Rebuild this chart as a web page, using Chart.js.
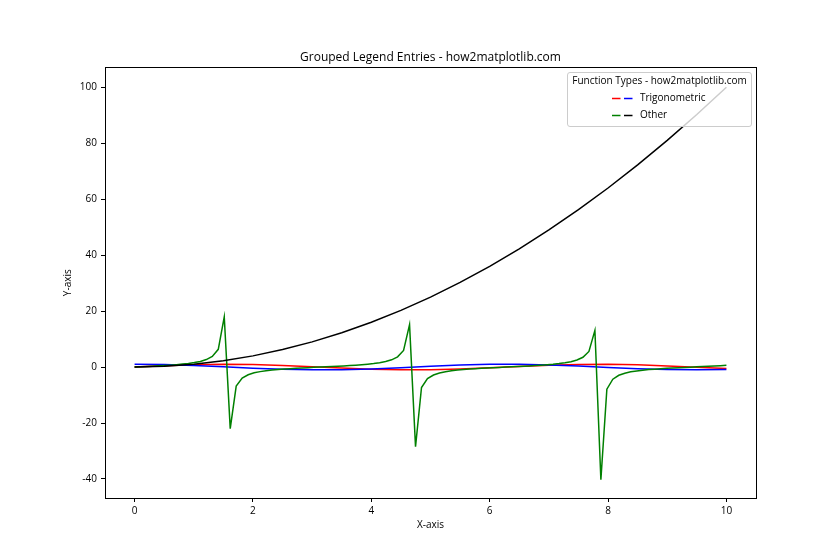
<!DOCTYPE html>
<html><head><meta charset="utf-8">
<script src="https://cdn.jsdelivr.net/npm/chart.js@4/dist/chart.umd.min.js"></script>
<style>html,body{margin:0;padding:0;background:#fff}#wrap{width:840px;height:560px;position:relative}</style>
</head><body><div id="wrap"><canvas id="c" width="840" height="560"></canvas></div>
<script>
// ---- data ----
const gridX = [0,0.5,1,1.5,2,2.5,3,3.5,4,4.5,5,5.5,6,6.5,7,7.5,8,8.5,9,9.5,10];
const sinValues = [0,0.479,0.841,0.997,0.909,0.598,0.141,-0.351,-0.757,-0.978,-0.959,-0.706,-0.279,0.215,0.657,0.938,0.989,0.798,0.412,-0.075,-0.544];
const cosValues = [1,0.878,0.540,0.071,-0.416,-0.801,-0.990,-0.936,-0.654,-0.211,0.284,0.709,0.960,0.977,0.754,0.347,-0.146,-0.602,-0.911,-0.997,-0.839];
const squareValues = [0,0.25,1,2.25,4,6.25,9,12.25,16,20.25,25,30.25,36,42.25,49,56.25,64,72.25,81,90.25,100];
const tanX = [0,0.101,0.202,0.303,0.404,0.505,0.606,0.707,0.808,0.909,1.010,1.111,1.212,1.313,1.414,1.515,1.616,1.717,1.818,1.919,
  2.020,2.121,2.222,2.323,2.424,2.525,2.626,2.727,2.828,2.929,3.030,3.131,3.232,3.333,3.434,3.535,3.636,3.737,3.838,3.939,
  4.040,4.141,4.242,4.343,4.444,4.545,4.646,4.747,4.848,4.949,5.051,5.152,5.253,5.354,5.455,5.556,5.657,5.758,5.859,5.960,
  6.061,6.162,6.263,6.364,6.465,6.566,6.667,6.768,6.869,6.970,7.071,7.172,7.273,7.374,7.475,7.576,7.677,7.778,7.879,7.980,
  8.081,8.182,8.283,8.384,8.485,8.586,8.687,8.788,8.889,8.990,9.091,9.192,9.293,9.394,9.495,9.596,9.697,9.798,9.899,10.000];
const tanValues = [0,0.10,0.20,0.31,0.43,0.55,0.69,0.85,1.05,1.28,1.59,2.02,2.67,3.79,6.33,17.95,
  -22.01,-6.78,-3.96,-2.75,-2.07,-1.63,-1.31,-1.07,-0.87,-0.71,-0.57,-0.44,-0.32,-0.22,-0.11,-0.01,
  0.09,0.19,0.30,0.42,0.54,0.68,0.84,1.03,1.26,1.56,1.97,2.59,3.64,5.94,15.15,
  -28.48,-7.30,-4.14,-2.84,-2.13,-1.67,-1.34,-1.09,-0.89,-0.72,-0.58,-0.45,-0.34,-0.23,-0.12,-0.02,
  0.08,0.18,0.29,0.40,0.53,0.66,0.82,1.00,1.23,1.52,1.92,2.51,3.50,5.58,13.11,
  -40.3,-7.91,-4.33,-2.94,-2.19,-1.71,-1.37,-1.11,-0.91,-0.74,-0.59,-0.46,-0.35,-0.24,-0.13,-0.03,0.07,0.17,0.28,0.39,0.51,0.65];
const xTicks = [0,2,4,6,8,10];
const yTicks = [-40,-20,0,20,40,60,80,100];
const seriesNames = ['sin(x)','cos(x)','tan(x)','x^2'];
const seriesColors = ['#ff0000','#0000ff','#008000','#000000'];
const legendTitle = 'Function Types - how2matplotlib.com';
const legendGroups = ['Trigonometric','Other'];
const legendGroupColors = [['#ff0000','#0000ff'],['#008000','#000000']];
const chartTitle = 'Grouped Legend Entries - how2matplotlib.com';
const xLabel = 'X-axis';
const yLabel = 'Y-axis';

const pts = (xs, ys) => xs.map((x, i) => ({x: x, y: ys[i]}));
const FONT = "'Open Sans', 'DejaVu Sans', sans-serif";
Chart.defaults.font.family = FONT;
Chart.defaults.color = '#000';

const frameAndLegend = {
  id: 'frameAndLegend',
  afterDatasetsDraw(chart) {
    const ctx = chart.ctx, a = chart.chartArea;
    ctx.save();
    ctx.strokeStyle = '#000'; ctx.lineWidth = 1;
    ctx.strokeRect(Math.round(a.left) + 0.5, Math.round(a.top) + 0.5, Math.round(a.right - a.left), Math.round(a.bottom - a.top));
    // legend
    const lx = 567.5, ly = 72.5, lw = 184, lh = 54, r = 2.5;
    ctx.beginPath();
    ctx.moveTo(lx + r, ly); ctx.lineTo(lx + lw - r, ly); ctx.arcTo(lx + lw, ly, lx + lw, ly + r, r);
    ctx.lineTo(lx + lw, ly + lh - r); ctx.arcTo(lx + lw, ly + lh, lx + lw - r, ly + lh, r);
    ctx.lineTo(lx + r, ly + lh); ctx.arcTo(lx, ly + lh, lx, ly + lh - r, r);
    ctx.lineTo(lx, ly + r); ctx.arcTo(lx, ly, lx + r, ly, r); ctx.closePath();
    ctx.fillStyle = 'rgba(255,255,255,0.8)'; ctx.fill();
    ctx.strokeStyle = '#cccccc'; ctx.stroke();
    ctx.fillStyle = '#000';
    ctx.font = '10px ' + FONT;
    ctx.textBaseline = 'middle';
    ctx.textAlign = 'center';
    ctx.fillText(legendTitle, lx + lw / 2, 81.5);
    ctx.textAlign = 'left';
    const rows = [98.5, 115.5];
    legendGroups.forEach((name, i) => {
      const y = rows[i];
      ctx.lineWidth = 1.5;
      ctx.strokeStyle = legendGroupColors[i][0];
      ctx.beginPath(); ctx.moveTo(612, y); ctx.lineTo(620.5, y); ctx.stroke();
      ctx.strokeStyle = legendGroupColors[i][1];
      ctx.beginPath(); ctx.moveTo(624, y); ctx.lineTo(632.5, y); ctx.stroke();
      ctx.fillText(name, 640, y);
    });
    ctx.restore();
  }
};

new Chart(document.getElementById('c'), {
  type: 'scatter',
  data: {
    datasets: [
      {label: seriesNames[0], data: pts(gridX, sinValues), borderColor: seriesColors[0], order: 4},
      {label: seriesNames[1], data: pts(gridX, cosValues), borderColor: seriesColors[1], order: 3},
      {label: seriesNames[2], data: pts(tanX, tanValues), borderColor: seriesColors[2], order: 2},
      {label: seriesNames[3], data: pts(gridX, squareValues), borderColor: seriesColors[3], order: 1}
    ].map(d => Object.assign(d, {showLine: true, pointRadius: 0, borderWidth: 1.5, tension: 0, fill: false, backgroundColor: d.borderColor}))
  },
  options: {
    responsive: false,
    animation: false,
    devicePixelRatio: 1,
    layout: {padding: {left: 0, top: 0, right: 84, bottom: 0}},
    plugins: {
      legend: {display: false},
      tooltip: {enabled: false},
      title: {display: true, text: chartTitle, fullSize: false, font: {size: 12, weight: 'normal'}, color: '#000', padding: {top: 50, bottom: 3}}
    },
    scales: {
      x: {
        type: 'linear', position: 'bottom', min: -0.5, max: 10.5,
        afterBuildTicks: s => { s.ticks = xTicks.map(v => ({value: v})); },
        afterFit: s => { s.height = 62; },
        ticks: {font: {size: 10}, color: '#000', padding: 3, maxRotation: 0, callback: v => String(v)},
        grid: {display: true, drawOnChartArea: false, drawTicks: true, tickLength: 4, color: '#000', lineWidth: 1},
        border: {display: false},
        title: {display: true, text: xLabel, font: {size: 10}, color: '#000', padding: {top: 0, bottom: 29}}
      },
      y: {
        type: 'linear', position: 'left', min: -46.8, max: 107.1,
        afterBuildTicks: s => { s.ticks = yTicks.map(v => ({value: v})); },
        afterFit: s => { s.width = 105; },
        ticks: {font: {size: 10}, color: '#000', padding: 4, callback: v => String(v)},
        grid: {display: true, drawOnChartArea: false, drawTicks: true, tickLength: 4, color: '#000', lineWidth: 1},
        border: {display: false},
        title: {display: true, text: yLabel, font: {size: 10}, color: '#000', padding: {top: 62, bottom: 0}}
      }
    }
  },
  plugins: [frameAndLegend]
});
</script></body></html>
